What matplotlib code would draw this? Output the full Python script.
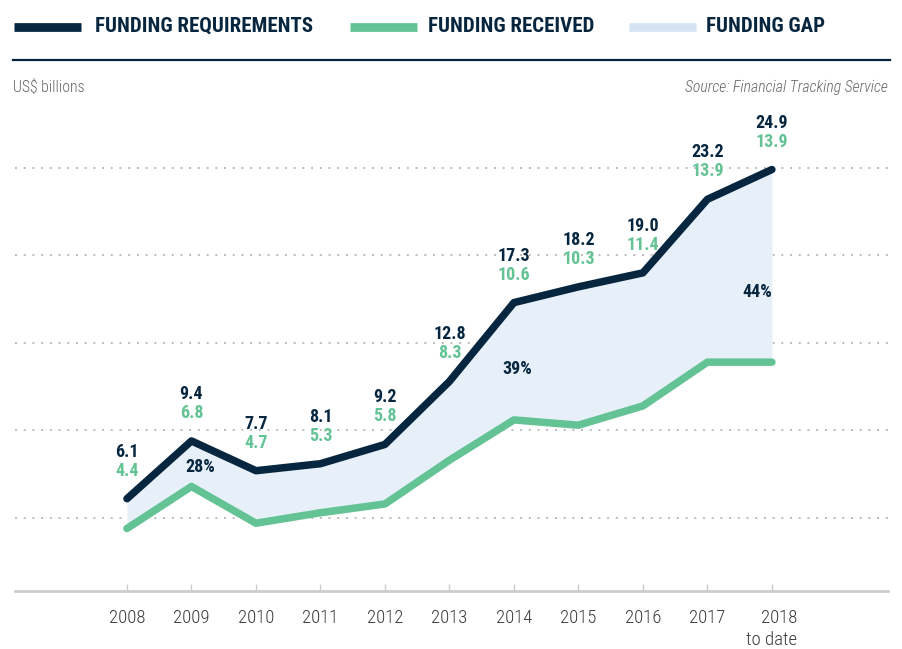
import matplotlib
matplotlib.use("Agg")
import matplotlib.pyplot as plt
from matplotlib.lines import Line2D
import numpy as np

years = ["2008", "2009", "2010", "2011", "2012", "2013", "2014", "2015", "2016", "2017", "2018\nto date"]
required = [6.1, 9.4, 7.7, 8.1, 9.2, 12.8, 17.3, 18.2, 19.0, 23.2, 24.9]
received = [4.4, 6.8, 4.7, 5.3, 5.8, 8.3, 10.6, 10.3, 11.4, 13.9, 13.9]
gap_labels = ["28%", "39%", "44%"]
gap_x = [1.13, 6.05, 9.78]
gap_y = [7.9, 13.5, 17.9]
grid_vals = [5, 10, 15, 20, 25]

NAVY = "#06263f"
GREEN = "#63c394"
FILL = "#e7f0f9"
FILL_LEG = "#d5e4f3"

COND = ["Roboto Condensed", "Liberation Sans Narrow", "Roboto", "DejaVu Sans"]
plt.rcParams["font.family"] = COND

fig = plt.figure(figsize=(9.03, 6.49), dpi=100)
ax = fig.add_axes([15 / 903, 1 - 591 / 649, 873 / 903, (591 - 110) / 649])
x = np.arange(len(years))

ax.fill_between(x, received, required, color=FILL, lw=0, zorder=1)
for v in grid_vals:
    ax.axhline(v, color="#aaaaaa", lw=1.1, ls=(0, (1.3, 4.4)), zorder=0)
ax.plot(x, received, color=GREEN, lw=5.4, solid_capstyle="round", solid_joinstyle="round", zorder=3)
ax.plot(x, required, color=NAVY, lw=5.4, solid_capstyle="round", solid_joinstyle="round", zorder=4)

for xi, r, g in zip(x, required, received):
    ax.annotate(f"{r:.1f}", (xi, r), xytext=(0, 47), textcoords="offset pixels",
                ha="center", va="center", fontsize=13, fontweight="bold", color=NAVY)
    ax.annotate(f"{g:.1f}", (xi, r), xytext=(0, 28), textcoords="offset pixels",
                ha="center", va="center", fontsize=13, fontweight="bold", color=GREEN)
for gx, gy, t in zip(gap_x, gap_y, gap_labels):
    ax.text(gx, gy, t, ha="center", va="center", fontsize=13, fontweight="bold", color=NAVY)

ax.set_xlim(-1.736, 11.8)
ax.set_ylim(0.83, 28.3)
ax.set_yticks([])
ax.set_xticks(x)
ax.set_xticklabels(years, fontsize=13.5, color="#3a3a3a", linespacing=1.3, fontweight="light")
ax.get_xticklabels()[-1].set_multialignment("right")
ax.tick_params(axis="x", direction="in", length=5, width=1, color="#cccccc", pad=13)
for s in ["left", "right", "top"]:
    ax.spines[s].set_visible(False)
ax.spines["bottom"].set_color("#cccccc")
ax.spines["bottom"].set_linewidth(2)

# header legend
def leg(x0, x1, col, label, tx):
    fig.add_artist(Line2D([x0 / 903, x1 / 903], [1 - 26.5 / 649] * 2, color=col, lw=6.3,
                          solid_capstyle="butt", transform=fig.transFigure))
    fig.text(tx / 903, 1 - 26 / 649, label, ha="left", va="center", fontsize=15,
             fontweight="bold", color=NAVY)

leg(14, 81, NAVY, "FUNDING REQUIREMENTS", 95)
leg(350, 417, GREEN, "FUNDING RECEIVED", 428)
leg(629, 696, FILL_LEG, "FUNDING GAP", 706)
fig.add_artist(Line2D([13 / 903, 890 / 903], [1 - 60 / 649] * 2, color=NAVY, lw=1.6,
                      transform=fig.transFigure))
fig.text(13 / 903, 1 - 87 / 649, "US$ billions", ha="left", va="center", fontsize=11.3,
         color="#666666", fontweight="light")
fig.text(888 / 903, 1 - 87 / 649, "Source: Financial Tracking Service", ha="right", va="center",
         fontsize=11.3, color="#666666", style="italic", fontweight="light")

fig.savefig("out.png", dpi=100)
